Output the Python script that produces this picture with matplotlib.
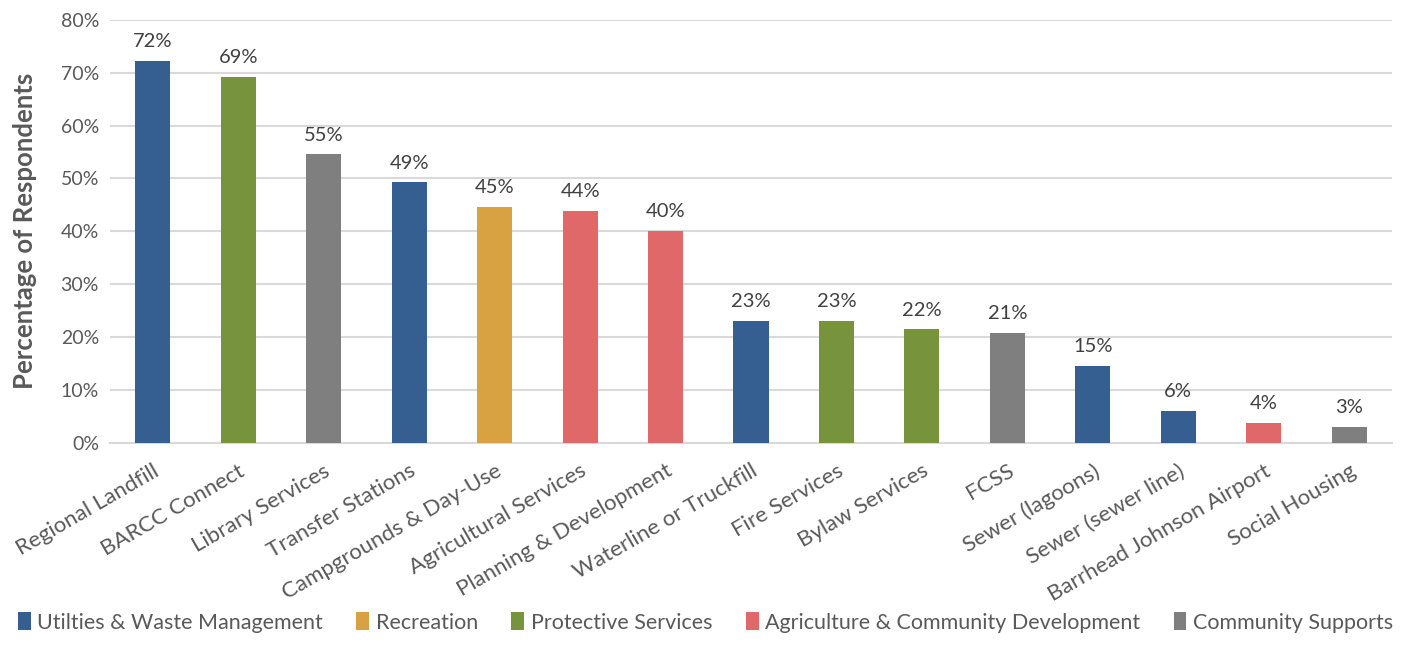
import matplotlib.pyplot as plt
import numpy as np
from matplotlib.patches import Patch

plt.rcParams['font.family'] = ['Lato', 'DejaVu Sans']

# services and share of respondents (%)
services = ["Regional Landfill", "BARCC Connect", "Library Services", "Transfer Stations",
            "Campgrounds & Day-Use", "Agricultural Services", "Planning & Development",
            "Waterline or Truckfill", "Fire Services", "Bylaw Services", "FCSS",
            "Sewer (lagoons)", "Sewer (sewer line)", "Barrhead Johnson Airport", "Social Housing"]
pct = [72.2, 69.2, 54.6, 49.3, 44.6, 43.9, 40.1, 23.1, 23.1, 21.5, 20.8, 14.6, 6.1, 3.8, 3.0]
group = ["util", "prot", "comm", "util", "rec", "agri", "agri", "util", "prot", "prot",
         "comm", "util", "util", "agri", "comm"]

group_names = {
    "util": "Utilties & Waste Management",
    "rec": "Recreation",
    "prot": "Protective Services",
    "agri": "Agriculture & Community Development",
    "comm": "Community Supports",
}
colors = {"util": "#365F91", "rec": "#D8A243", "prot": "#77933C",
          "agri": "#E06868", "comm": "#7F7F7F"}

fig = plt.figure(figsize=(14.11, 6.6), dpi=100)
ax = fig.add_axes([0.078, 0.329, 0.9085, 0.641])

x = np.arange(len(services))
bars = ax.bar(x, pct, width=0.41, color=[colors[g] for g in group], zorder=3)

for b, v in zip(bars, pct):
    ax.text(b.get_x() + b.get_width() / 2, v + 2.0, f"{round(v)}%", ha="center",
            va="bottom", fontsize=14.5, color="#404040")

ax.set_ylim(0, 80)
ax.set_xlim(-0.5, len(services) - 0.5)
ax.set_yticks(range(0, 81, 10))
ax.set_yticklabels([f"{t}%" for t in range(0, 81, 10)], fontsize=14, color="#595959")
ax.set_xticks(x)
ax.set_xticklabels(services, rotation=30, ha="right", rotation_mode="anchor",
                   fontsize=16, color="#595959")
ax.tick_params(length=0, pad=8)
ax.tick_params(axis="x", pad=13)
ax.yaxis.grid(True, color="#D9D9D9", linewidth=1.5, zorder=0)
for s in ["top", "right", "left"]:
    ax.spines[s].set_visible(False)
ax.spines["bottom"].set_color("#D9D9D9")
ax.spines["bottom"].set_linewidth(1.5)

ax.set_ylabel("Percentage of Respondents", fontsize=18.5, fontweight="bold",
              color="#595959", labelpad=17)

handles = [Patch(facecolor=colors[k], label=group_names[k]) for k in group_names]
fig.legend(handles=handles, loc="lower center", bbox_to_anchor=(0.5, 0.012), ncol=5,
           frameon=False, fontsize=15.5, handlelength=0.6, handleheight=0.9,
           handletextpad=0.3, columnspacing=1.55, labelcolor="#595959")

fig.savefig("out.png", dpi=100)
